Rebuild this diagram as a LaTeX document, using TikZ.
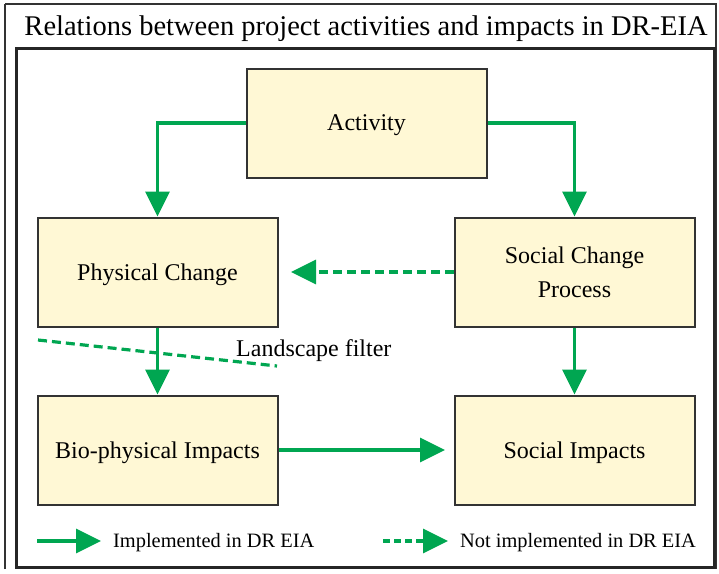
\documentclass[tikz,border=0pt]{standalone}
\usepackage{fontspec}
\setmainfont{Liberation Serif}
\usetikzlibrary{arrows.meta}
\definecolor{arrgreen}{HTML}{00A651}
\definecolor{boxfill}{HTML}{FFF8D5}
\definecolor{boxdraw}{HTML}{333333}
\begin{document}
\begin{tikzpicture}[x=1pt,y=-1pt,
  box/.style={draw=boxdraw,line width=2pt,fill=boxfill,minimum width=240pt,minimum height=109pt,inner sep=0pt,align=center,text depth=0pt,font=\fontsize{24}{34}\selectfont},
  conn/.style={draw=arrgreen,line width=3.2pt,-{Triangle[length=25pt,width=24pt]}},
  dconn/.style={conn,dash pattern=on 9pt off 5pt},
  lbl/.style={inner sep=0pt,anchor=west}]
\useasboundingbox (0,0) rectangle (719,573);
\fill[white] (0,0) rectangle (719,573);
\draw[line width=1.2pt,draw=boxdraw] (5,4) -- (716,4) -- (716,569) (5,569) -- (5,4);
\draw[line width=3pt,draw=black!85] (16,48) rectangle (714,567);
\node[inner sep=0pt] (title) at (366,29) {\fontsize{28.5}{32}\selectfont Relations between project activities and impacts in DR-EIA};
\node[box] (act) at (366.5,123) {Activity};
\node[box] (phys) at (157.5,272) {Physical Change};
\node[box] (scp) at (574.5,272) {Social Change\\Process};
\node[box] (bio) at (157.5,450) {Bio-physical Impacts};
\node[box] (si) at (574.5,450) {Social Impacts};
\draw[conn] (act.west) -| (phys.north);
\draw[conn] (act.east) -| (scp.north);
\draw[dconn] (scp.west) -- (291,272);
\draw[conn] (phys.south) -- (bio.north);
\draw[conn] (scp.south) -- (si.north);
\draw[conn] (bio.east) -- (445,450);
\coordinate (f1) at (38,340);
\coordinate (f2) at (277,366);
\draw[draw=arrgreen,line width=3.2pt,dash pattern=on 9pt off 5pt] (f1) -- (f2);
\node[lbl] (filt) at (236,350.5) {\fontsize{24}{28}\selectfont Landscape filter};
\coordinate (l1a) at (37,541);
\node[lbl] (l1t) at (113,543) {\fontsize{20.4}{24}\selectfont Implemented in DR EIA};
\draw[conn] (l1a) -- (101,541);
\coordinate (l2a) at (383,541);
\node[lbl] (l2t) at (460,543) {\fontsize{20.4}{24}\selectfont Not implemented in DR EIA};
\draw[dconn,dash pattern=on 7pt off 4pt] (l2a) -- (448,541);
\end{tikzpicture}
\end{document}
